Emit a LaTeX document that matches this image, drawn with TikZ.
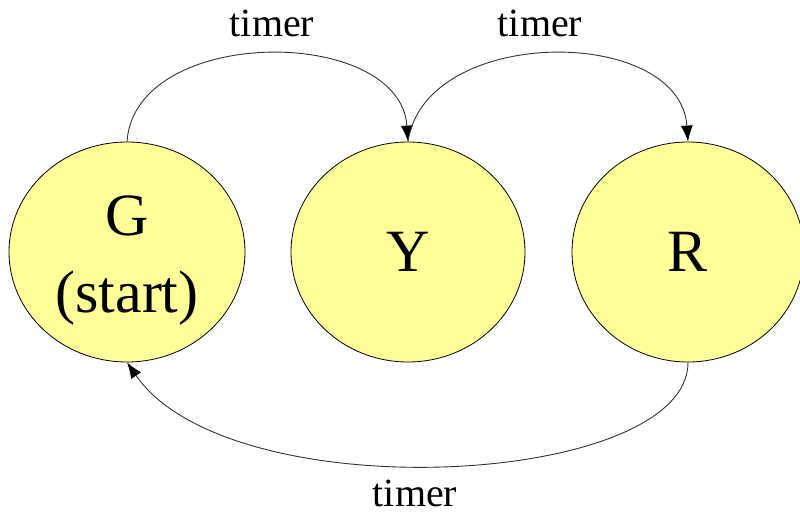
\documentclass[tikz,border=0pt]{standalone}
\usepackage{fontspec}
\setmainfont{Liberation Serif}
\usetikzlibrary{arrows.meta,shapes.geometric}
\definecolor{stfill}{HTML}{FFFF99}
\definecolor{edgecol}{HTML}{333333}
\begin{document}
\begin{tikzpicture}[x=1pt,y=1pt,
  state/.style={ellipse,draw=black,line width=0.8pt,fill=stfill,inner sep=0pt,
    align=center,font=\fontsize{60}{77}\selectfont},
  trans/.style={draw=edgecol,line width=0.9pt,-{Latex[length=16pt,width=12pt,black]}},
  lbl/.style={anchor=base,inner sep=0pt,font=\fontsize{40}{48}\selectfont}]
\useasboundingbox (0,0) rectangle (800,517);
\fill[white] (0,0) rectangle (800,517);
\node[state,minimum width=236pt,minimum height=220pt] (G) at (127,265) {\rule{0pt}{56pt}G\\(start)};
\node[state,minimum width=234pt,minimum height=220pt] (Y) at (408,265) {Y};
\node[state,minimum width=232pt,minimum height=220pt] (R) at (688,265) {R};
\draw[trans] (G.north) .. controls (135,492) and (400,492) .. (Y.north);
\draw[trans] (Y.north) .. controls (425,492) and (680,492) .. (R.north);
\draw[trans] (R.south) .. controls (688,30) and (230,5) .. (G.south);
\node[lbl] (t1) at (272,480) {timer};
\node[lbl] (t2) at (540,480) {timer};
\node[lbl] (t3) at (415,11) {timer};
\end{tikzpicture}
\end{document}
